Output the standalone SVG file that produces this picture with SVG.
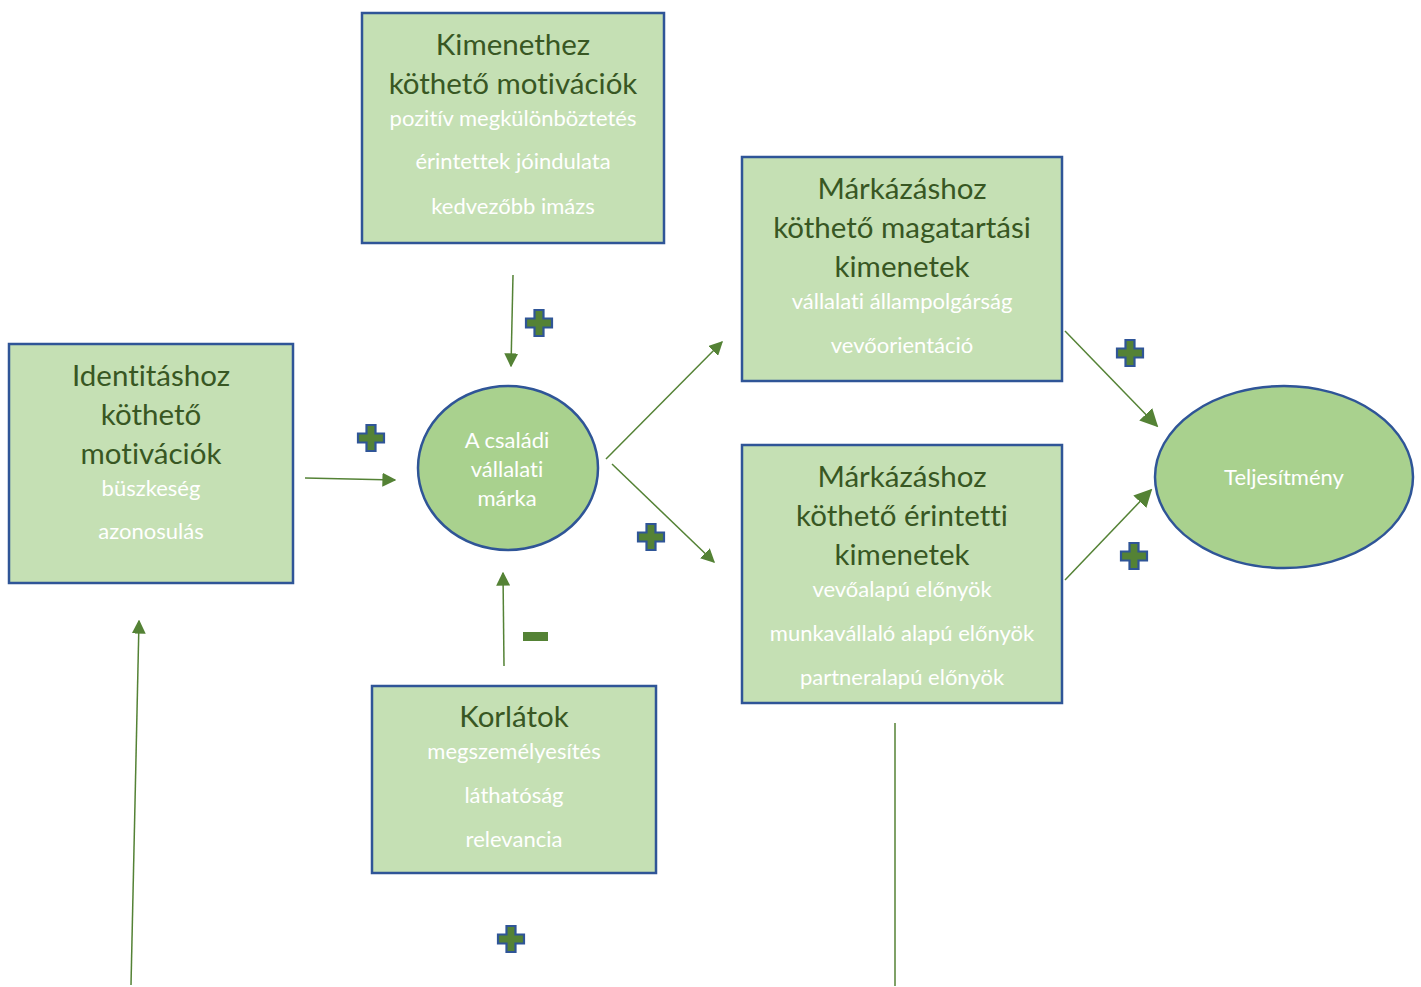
<svg xmlns="http://www.w3.org/2000/svg" width="1421" height="987" viewBox="0 0 1421 987">
  <style>
    .box { fill: #c5e0b4; stroke: #2f5597; stroke-width: 2.5; }
    .oval { fill: #a9d18e; stroke: #2f5597; stroke-width: 2.5; }
    text { font-variant-ligatures: none; }
    .title { font-family: Lato, "Liberation Sans", sans-serif; font-size: 29.5px; fill: #385723; text-anchor: middle; }
    .item { font-family: Lato, "Liberation Sans", sans-serif; font-size: 22px; fill: #ffffff; text-anchor: middle; }
    .link { stroke: #548235; stroke-width: 1.5; fill: none; }
    .plus { fill: #548235; stroke: #2f5597; stroke-width: 2.2; }
  </style>
  <defs>
    <marker id="arrow" viewBox="0 0 10 10" refX="9" refY="5" markerWidth="14" markerHeight="14" markerUnits="userSpaceOnUse" orient="auto">
      <path d="M0,0 L10,5 L0,10 Z" fill="#548235"/>
    </marker>
    <marker id="arrowBig" viewBox="0 0 10 10" refX="9" refY="5" markerWidth="18" markerHeight="18" markerUnits="userSpaceOnUse" orient="auto">
      <path d="M0,0 L10,5 L0,10 Z" fill="#548235"/>
    </marker>
    <path id="cross" d="M-4.5,-13 H4.5 V-4.5 H13 V4.5 H4.5 V13 H-4.5 V4.5 H-13 V-4.5 H-4.5 Z"/>
  </defs>

  <g id="node-kimenet">
    <rect class="box" x="362" y="13" width="302" height="230"/>
    <text class="title" x="513" y="55">Kimenethez</text>
    <text class="title" x="513" y="94">köthető motivációk</text>
    <text class="item" x="513" y="126">pozitív megkülönböztetés</text>
    <text class="item" x="513" y="169">érintettek jóindulata</text>
    <text class="item" x="513" y="214">kedvezőbb imázs</text>
  </g>

  <g id="node-magatartasi">
    <rect class="box" x="742" y="157" width="320" height="224"/>
    <text class="title" x="902" y="199">Márkázáshoz</text>
    <text class="title" x="902" y="238">köthető magatartási</text>
    <text class="title" x="902" y="277">kimenetek</text>
    <text class="item" x="902" y="309">vállalati állampolgárság</text>
    <text class="item" x="902" y="353">vevőorientáció</text>
  </g>

  <g id="node-erintetti">
    <rect class="box" x="742" y="445" width="320" height="258"/>
    <text class="title" x="902" y="487">Márkázáshoz</text>
    <text class="title" x="902" y="526">köthető érintetti</text>
    <text class="title" x="902" y="565">kimenetek</text>
    <text class="item" x="902" y="597">vevőalapú előnyök</text>
    <text class="item" x="902" y="641">munkavállaló alapú előnyök</text>
    <text class="item" x="902" y="685">partneralapú előnyök</text>
  </g>

  <g id="node-identitas">
    <rect class="box" x="9" y="344" width="284" height="239"/>
    <text class="title" x="151" y="386">Identitáshoz</text>
    <text class="title" x="151" y="425">köthető</text>
    <text class="title" x="151" y="464">motivációk</text>
    <text class="item" x="151" y="496">büszkeség</text>
    <text class="item" x="151" y="539">azonosulás</text>
  </g>

  <g id="node-korlatok">
    <rect class="box" x="372" y="686" width="284" height="187"/>
    <text class="title" x="514" y="727">Korlátok</text>
    <text class="item" x="514" y="759">megszemélyesítés</text>
    <text class="item" x="514" y="803">láthatóság</text>
    <text class="item" x="514" y="847">relevancia</text>
  </g>

  <g id="node-marka">
    <ellipse class="oval" cx="508" cy="468" rx="90" ry="82"/>
    <text class="item" x="507" y="448">A családi</text>
    <text class="item" x="507" y="477">vállalati</text>
    <text class="item" x="507" y="506">márka</text>
  </g>

  <g id="node-teljesitmeny">
    <ellipse class="oval" cx="1284" cy="477" rx="129" ry="91"/>
    <text class="item" x="1284" y="485" font-size="22.5">Teljesítmény</text>
  </g>

  <g id="connectors">
    <line class="link" x1="513" y1="275" x2="511" y2="366" marker-end="url(#arrow)"/>
    <line class="link" x1="305" y1="478" x2="395" y2="480" marker-end="url(#arrow)"/>
    <line class="link" x1="504" y1="666" x2="503" y2="573" marker-end="url(#arrow)"/>
    <line class="link" x1="606" y1="459" x2="722" y2="342" marker-end="url(#arrow)"/>
    <line class="link" x1="612" y1="464" x2="714" y2="562" marker-end="url(#arrow)"/>
    <line class="link" x1="1065" y1="331" x2="1157" y2="426" marker-end="url(#arrowBig)"/>
    <line class="link" x1="1065" y1="580" x2="1151" y2="490" marker-end="url(#arrowBig)"/>
    <line class="link" x1="131" y1="985" x2="139" y2="621" marker-end="url(#arrow)"/>
    <line class="link" x1="895" y1="723" x2="895" y2="986"/>
  </g>

  <g id="signs">
    <use href="#cross" class="plus" x="539" y="323"/>
    <use href="#cross" class="plus" x="371" y="438"/>
    <use href="#cross" class="plus" x="1130" y="353"/>
    <use href="#cross" class="plus" x="651" y="537"/>
    <use href="#cross" class="plus" x="1134" y="556"/>
    <use href="#cross" class="plus" x="511" y="939"/>
    <rect x="523" y="632" width="25" height="9" fill="#548235"/>
  </g>
</svg>
